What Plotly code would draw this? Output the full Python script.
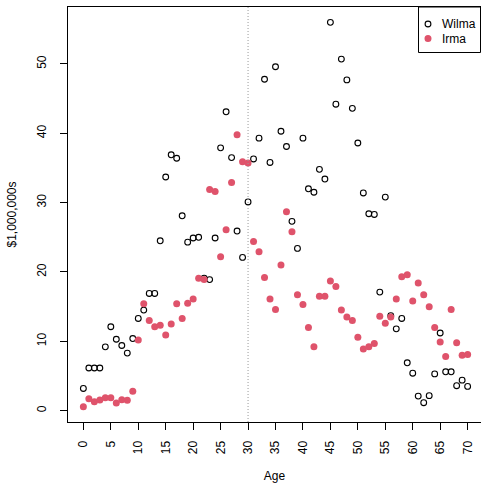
import plotly.graph_objects as go

# Age in years, one observation per year
age = list(range(0, 71))

# Earnings in $1,000,000s
wilma = [3.2, 6.15, 6.15, 6.15, 9.2, 12.1, 10.3, 9.4, 8.3, 10.4,
         13.3, 14.5, 16.9, 16.9, 24.5, 33.7, 36.9, 36.4, 28.1, 24.3,
         24.9, 25.0, 19.1, 18.9, 24.9, 37.9, 43.1, 36.5, 25.9, 22.1,
         30.1, 36.3, 39.3, 47.8, 35.8, 49.6, 40.3, 38.1, 27.3, 23.4,
         39.3, 32.0, 31.5, 34.8, 33.4, 56.0, 44.2, 50.7, 47.7, 43.6,
         38.6, 31.4, 28.4, 28.3, 17.1, 30.8, 13.7, 11.8, 13.3, 6.9,
         5.4, 2.1, 1.15, 2.16, 5.3, 11.2, 5.6, 5.6, 3.6, 4.4, 3.5]

irma = [0.58, 1.73, 1.3, 1.54, 1.87, 1.87, 1.1, 1.58, 1.49, 2.8,
        10.2, 15.4, 13.0, 12.1, 12.3, 10.9, 12.5, 15.4, 13.3, 15.5,
        16.1, 19.1, 18.9, 31.9, 31.6, 22.2, 26.1, 32.9, 39.8, 35.9,
        35.7, 24.4, 22.9, 19.2, 16.1, 14.6, 21.0, 28.7, 25.8, 16.7,
        15.3, 12.0, 9.2, 16.5, 16.5, 18.7, 17.9, 14.5, 13.5, 13.0,
        10.6, 8.9, 9.2, 9.7, 13.6, 12.6, 13.5, 16.1, 19.3, 19.6,
        15.8, 18.4, 16.7, 15.0, 12.0, 9.9, 7.8, 14.6, 9.8, 8.0, 8.1]

x_ticks = list(range(0, 71, 5))
y_ticks = list(range(0, 51, 10))
cutoff_age = 30

series_names = ["Wilma", "Irma"]
irma_color = "#DF536B"

W, H = 481, 484
ML, MT, MB = 68, 7, 62
plot_w = W - ML
plot_h = H - MT - MB

# axis ranges padded by 4% of the data span
ally = wilma + irma
ylo, yhi = min(ally), max(ally)
ypad = 0.04 * (yhi - ylo)
xlo, xhi = min(age), max(age)
xpad = 0.04 * (xhi - xlo)
full_x = (xlo - xpad, xhi + xpad)
px_per_unit = 415 / (full_x[1] - full_x[0])
x_range = [full_x[0], full_x[0] + plot_w / px_per_unit]

font = dict(family="Liberation Sans, Arial, sans-serif", size=12, color="black")

fig = go.Figure()
fig.add_trace(go.Scatter(
    x=age, y=wilma, mode="markers", name=series_names[0],
    marker=dict(symbol="circle-open", size=5.8, color="black",
                line=dict(width=1.1, color="black")),
    showlegend=False))
fig.add_trace(go.Scatter(
    x=age, y=irma, mode="markers", name=series_names[1],
    marker=dict(symbol="circle", size=7, color=irma_color, line=dict(width=0)),
    showlegend=False))

# dotted reference line at age 30
fig.add_shape(type="line", xref="x", yref="paper", x0=cutoff_age, x1=cutoff_age,
              y0=0, y1=1, line=dict(color="#9a9a9a", width=1, dash="1px,2px"))


def px_x(p):
    return (p - ML) / plot_w


def px_y(p):
    return (H - MB - p) / plot_h


# legend box
fig.add_shape(type="rect", xref="paper", yref="paper",
              x0=px_x(418.5), x1=px_x(480.5), y0=px_y(52.5), y1=1,
              line=dict(color="black", width=1), fillcolor="white", layer="above")
legend_rows = [(24, series_names[0], "open"), (38.5, series_names[1], "fill")]
for py, label, kind in legend_rows:
    if kind == "open":
        fig.add_shape(type="circle", xref="paper", yref="paper",
                      xsizemode="pixel", ysizemode="pixel",
                      xanchor=px_x(428), yanchor=px_y(py),
                      x0=-2.9, x1=2.9, y0=-2.9, y1=2.9,
                      line=dict(color="black", width=1.1), layer="above")
    else:
        fig.add_shape(type="circle", xref="paper", yref="paper",
                      xsizemode="pixel", ysizemode="pixel",
                      xanchor=px_x(428), yanchor=px_y(py),
                      x0=-3.5, x1=3.5, y0=-3.5, y1=3.5,
                      fillcolor=irma_color, line=dict(width=0), layer="above")
    fig.add_annotation(xref="paper", yref="paper", x=px_x(440), y=px_y(py),
                       xanchor="left", yanchor="middle", text=label,
                       showarrow=False, font=font)

fig.update_layout(
    width=W, height=H,
    margin=dict(l=ML, r=0, t=MT, b=MB, pad=0),
    paper_bgcolor="white", plot_bgcolor="white",
    font=font,
    xaxis=dict(
        range=x_range, tickmode="array", tickvals=x_ticks,
        ticktext=[str(v) for v in x_ticks], tickangle=-90,
        ticks="outside", ticklen=7, tickwidth=1, tickcolor="black",
        ticklabelstandoff=6,
        showline=True, linecolor="black", linewidth=1, mirror=True,
        showgrid=False, zeroline=False,
        title=dict(text="Age", font=font, standoff=18),
    ),
    yaxis=dict(
        range=[ylo - ypad, yhi + ypad], tickmode="array", tickvals=y_ticks,
        ticktext=[str(v) for v in y_ticks], tickangle=-90,
        ticks="outside", ticklen=7, tickwidth=1, tickcolor="black",
        ticklabelstandoff=9,
        showline=True, linecolor="black", linewidth=1, mirror=False,
        showgrid=False, zeroline=False,
        title=dict(text="$1,000,000s", font=font, standoff=16),
    ),
)

fig.write_html("out.html")
